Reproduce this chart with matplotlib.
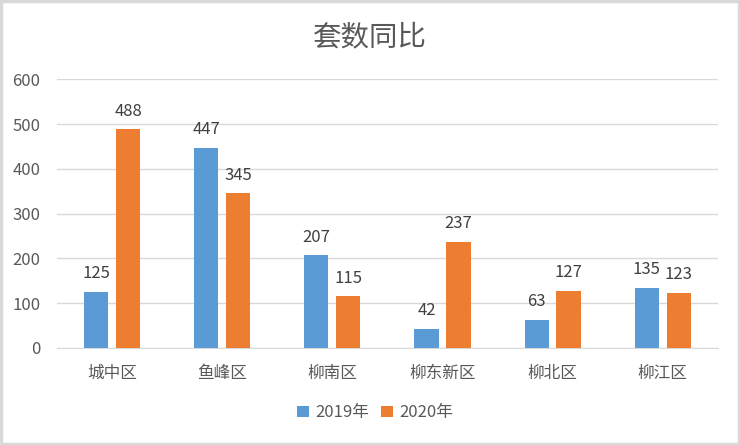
import matplotlib
matplotlib.use('Agg')
import matplotlib.pyplot as plt
import numpy as np
from matplotlib.patches import Rectangle

plt.rcParams['font.family'] = ['Noto Sans CJK SC', 'DejaVu Sans']

districts = ['城中区', '鱼峰区', '柳南区', '柳东新区', '柳北区', '柳江区']
y2019 = [125, 447, 207, 42, 63, 135]
y2020 = [488, 345, 115, 237, 127, 123]
series = ['2019年', '2020年']
colors = ['#5b9bd5', '#ed7d31']

fig = plt.figure(figsize=(7.4, 4.45), dpi=100)
ax = fig.add_axes([0.077, 0.218, 0.893, 0.604])

x = np.arange(len(districts))
w = 0.22
gap = 0.07
off = (w + gap) / 2
b1 = ax.bar(x - off, y2019, w, color=colors[0], label=series[0], zorder=3)
b2 = ax.bar(x + off, y2020, w, color=colors[1], label=series[1], zorder=3)
for bars in (b1, b2):
    ax.bar_label(bars, padding=7, fontsize=12, color='#404040')

ax.set_xlim(-0.5, len(districts) - 0.5)
ax.set_ylim(0, 600)
ax.set_yticks(range(0, 601, 100))
ax.set_xticks(x)
ax.set_xticklabels(districts)
ax.tick_params(axis='both', length=0, labelsize=12, colors='#595959')
ax.tick_params(axis='y', pad=12)
ax.tick_params(axis='x', pad=12)
ax.grid(axis='y', color='#d9d9d9', linewidth=1, zorder=0)
for s in ['top', 'right', 'left']:
    ax.spines[s].set_visible(False)
ax.spines['bottom'].set_color('#d9d9d9')

fig.suptitle('套数同比', y=0.95, fontsize=20.5, color='#595959')
fig.legend(loc='center', bbox_to_anchor=(0.507, 0.072), ncol=2, frameon=False,
           fontsize=12, handlelength=0.7, handleheight=0.7, handletextpad=0.4,
           columnspacing=0.7, labelcolor='#595959')

fig.patches.append(Rectangle((0.002, 0.003), 0.996, 0.994, transform=fig.transFigure,
                             fill=False, edgecolor='#d9d9d9', linewidth=2.5))

fig.savefig('out.png', dpi=100)
